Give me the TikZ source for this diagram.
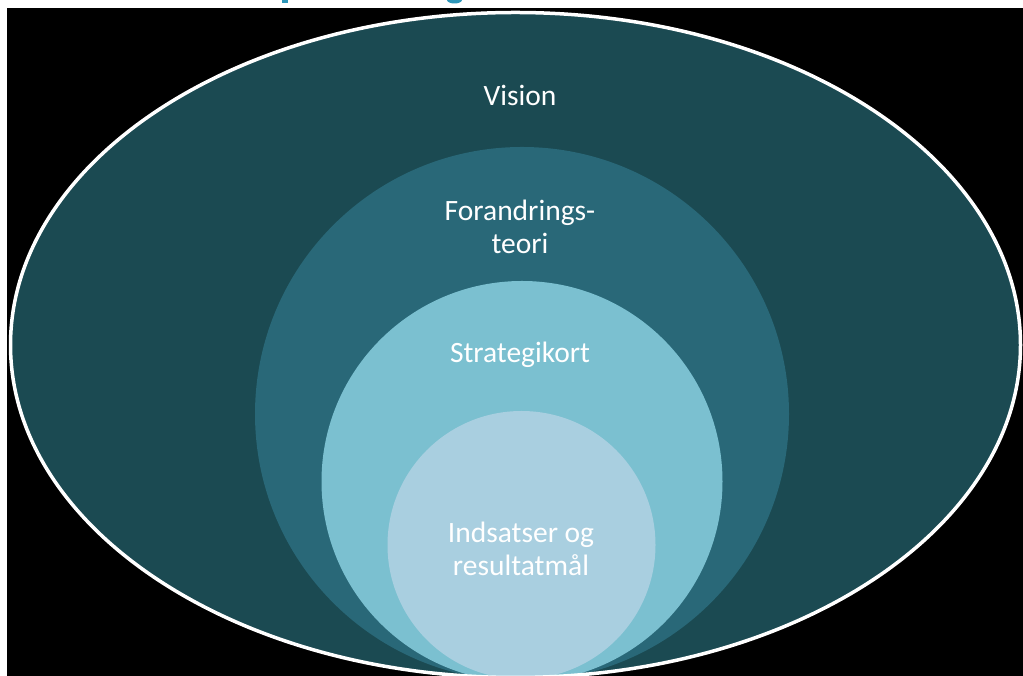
\documentclass[tikz,border=0pt]{standalone}
\usepackage{fontspec}
\setmainfont{Carlito}
\definecolor{cOuter}{RGB}{27,74,82}
\definecolor{cSecond}{RGB}{41,104,120}
\definecolor{cThird}{RGB}{123,192,208}
\definecolor{cFourth}{RGB}{169,207,224}
\definecolor{cTitle}{RGB}{45,150,185}
\tikzset{
  lbl/.style={text=white, font=\fontsize{29.5}{33}\selectfont, align=center, inner sep=0pt},
  ring/.style={circle, draw=none, inner sep=0pt, minimum size=#1}
}
\begin{document}
\begin{tikzpicture}[x=1pt,y=1pt]
% frame
\fill[white] (0,0) rectangle (1023,676);
\useasboundingbox (0,0) rectangle (1023,676);
\fill[black] (7,0) rectangle (1023,668);
% cut-off title fragments
\begin{scope}
\clip (0,668) rectangle (1023,676);
\fill[cTitle] (282,672.5) rectangle (288,676);
\fill[cTitle] (447,676) arc[start angle=180,end angle=360,x radius=7.5,y radius=3.5] -- cycle;
\end{scope}
% outer ellipse
\coordinate (c0) at (515.5,331);
\fill[cOuter] (c0) ellipse[x radius=505, y radius=332.5];
\begin{scope}
\clip (c0) ellipse[x radius=505, y radius=332.5];
\node[ring=534pt, fill=cSecond] (teori) at (522,262) {};
\node[ring=401pt, fill=cThird] (kort) at (522,194.5) {};
\node[ring=268pt, fill=cFourth] (indsats) at (521.5,131) {};
\end{scope}
\draw[white, line width=3.5pt] (c0) ellipse[x radius=505, y radius=332.5];
% labels
\node[lbl] (tVision) at (520,581) {Vision};
\node[lbl] (tTeori) at (520,449) {Forandrings-\\teori};
\node[lbl] (tKort) at (520,321) {Strategikort};
\node[lbl] (tIndsats) at (521,127) {Indsatser og\\resultatmål};
\end{tikzpicture}
\end{document}
